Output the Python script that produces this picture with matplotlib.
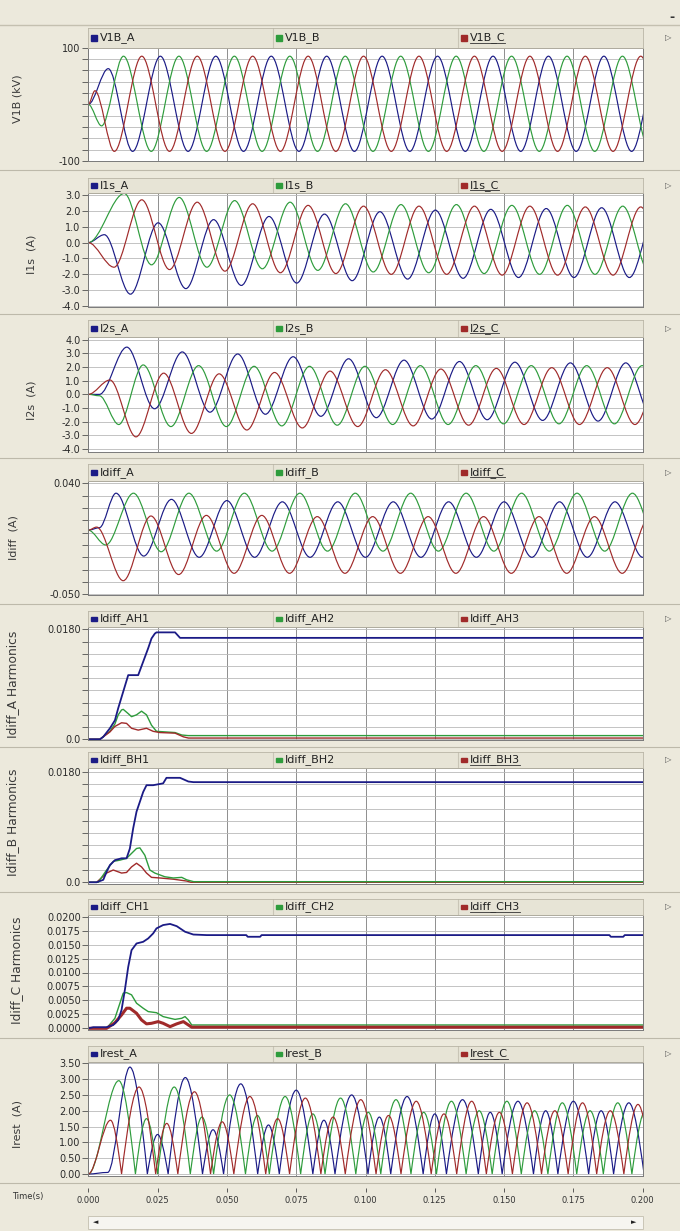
import numpy as np
import matplotlib
matplotlib.use("Agg")
import matplotlib.pyplot as plt
from matplotlib.path import Path
from matplotlib.patches import PathPatch, Rectangle
from matplotlib.lines import Line2D
from matplotlib.transforms import IdentityTransform

# waveform extrema, time in ms
V1B_A_T = [0, 7.2, 16, 26, 36, 46, 56, 66, 76, 86, 96, 106, 116, 126, 136, 146, 156, 166, 176, 186, 196, 206]
V1B_A = [0, 63, -83, 85, -83, 85, -83, 85, -83, 85, -83, 85, -83, 85, -83, 85, -83, 85, -83, 85, -83, 85]
V1B_B_T = [0, 4.8, 12.7, 22.7, 32.7, 42.7, 52.7, 62.7, 72.7, 82.7, 92.7, 102.7, 112.7, 122.7, 132.7, 142.7,
           152.7, 162.7, 172.7, 182.7, 192.7, 202.7]
V1B_B = [0, -38, 85, -83, 85, -83, 85, -83, 85, -83, 85, -83, 85, -83, 85, -83, 85, -83, 85, -83, 85, -83]
V1B_C_T = [0, 2.4, 9.4, 19.3, 29.3, 39.3, 49.3, 59.3, 69.3, 79.3, 89.3, 99.3, 109.3, 119.3, 129.3, 139.3,
           149.3, 159.3, 169.3, 179.3, 189.3, 199.3, 209.3]
V1B_C = [0, 24, -83, 85, -83, 85, -83, 85, -83, 85, -83, 85, -83, 85, -83, 85, -83, 85, -83, 85, -83, 85, -83]

I1S_A_T = [0, 5.8, 15.2, 25.2, 35.2, 45.2, 55.2, 65.2, 75.2, 85.2, 95.2, 105.2, 115.2, 125.2, 135.2, 145.2,
           155.2, 165.2, 175.2, 185.2, 195.2, 205.2]
I1S_A = [0, 0.5, -3.25, 1.25, -2.9, 1.45, -2.7, 1.65, -2.55, 1.8, -2.4, 1.95, -2.3, 2.05, -2.25, 2.1,
         -2.2, 2.15, -2.2, 2.2, -2.2, 2.2]
I1S_B_T = [0, 13.0, 22.8, 32.8, 42.8, 52.8, 62.8, 72.8, 82.8, 92.8, 102.8, 112.8, 122.8, 132.8, 142.8,
           152.8, 162.8, 172.8, 182.8, 192.8, 202.8]
I1S_B = [0, 3.1, -1.4, 2.85, -1.55, 2.65, -1.65, 2.55, -1.75, 2.45, -1.85, 2.4, -1.9, 2.4, -1.95, 2.35,
         -2.0, 2.35, -2.0, 2.3, -2.05]
I1S_C_T = [0, 9.3, 19.3, 29.3, 39.3, 49.3, 59.3, 69.3, 79.3, 89.3, 99.3, 109.3, 119.3, 129.3, 139.3, 149.3,
           159.3, 169.3, 179.3, 189.3, 199.3, 209.3]
I1S_C = [0, -1.55, 2.7, -1.7, 2.55, -1.8, 2.45, -1.9, 2.35, -1.95, 2.3, -2.0, 2.3, -2.0, 2.3, -2.05,
         2.3, -2.05, 2.25, -2.05, 2.25, -2.05]

I2S_A_T = [0, 4, 13.9, 23.9, 33.9, 43.9, 53.9, 63.9, 73.9, 83.9, 93.9, 103.9, 113.9, 123.9, 133.9, 143.9,
           153.9, 163.9, 173.9, 183.9, 193.9, 203.9]
I2S_A = [0, 0, 3.45, -1.05, 3.1, -1.3, 2.95, -1.45, 2.75, -1.6, 2.6, -1.7, 2.5, -1.8, 2.4, -1.85,
         2.35, -1.9, 2.3, -1.95, 2.3, -1.95]
I2S_B_T = [0, 4, 11, 19.8, 29.8, 39.8, 49.8, 59.8, 69.8, 79.8, 89.8, 99.8, 109.8, 119.8, 129.8, 139.8,
           149.8, 159.8, 169.8, 179.8, 189.8, 199.8, 209.8]
I2S_B = [0, -0.1, -2.2, 2.15, -2.35, 2.1, -2.35, 2.05, -2.3, 2.05, -2.25, 2.05, -2.2, 2.1, -2.2, 2.1,
         -2.15, 2.1, -2.15, 2.1, -2.15, 2.1, -2.15]
I2S_C_T = [0, 7.8, 17.2, 27.2, 37.2, 47.2, 57.2, 67.2, 77.2, 87.2, 97.2, 107.2, 117.2, 127.2, 137.2, 147.2,
           157.2, 167.2, 177.2, 187.2, 197.2, 207.2]
I2S_C = [0, 1.05, -3.1, 1.55, -2.85, 1.5, -2.6, 1.6, -2.45, 1.7, -2.35, 1.8, -2.3, 1.85, -2.25, 1.9,
         -2.2, 1.95, -2.2, 1.95, -2.2, 2.0]

IDIFF_A_T = [0, 4, 10, 20, 30, 40, 50, 60, 70, 80, 90, 100, 110, 120, 130, 140, 150, 160, 170, 180, 190, 200, 210]
IDIFF_A = [0.002, 0.004, 0.032, -0.019, 0.027, -0.020, 0.026, -0.020, 0.025, -0.020, 0.025, -0.020,
           0.025, -0.020, 0.025, -0.020, 0.025, -0.020, 0.025, -0.020, 0.025, -0.020, 0.025]
IDIFF_B_T = [0, 6.3, 16.3, 26.3, 36.3, 46.3, 56.3, 66.3, 76.3, 86.3, 96.3, 106.3, 116.3, 126.3, 136.3,
             146.3, 156.3, 166.3, 176.3, 186.3, 196.3, 206.3]
IDIFF_B = [0.002, -0.010, 0.032, -0.0155, 0.032, -0.015, 0.032, -0.015, 0.032, -0.015, 0.032, -0.015,
           0.032, -0.015, 0.032, -0.015, 0.032, -0.015, 0.032, -0.015, 0.032, -0.015]
IDIFF_C_T = [0, 3, 12.6, 22.6, 32.6, 42.6, 52.6, 62.6, 72.6, 82.6, 92.6, 102.6, 112.6, 122.6, 132.6,
             142.6, 152.6, 162.6, 172.6, 182.6, 192.6, 202.6]
IDIFF_C = [0.002, 0.0045, -0.039, 0.0135, -0.034, 0.014, -0.033, 0.014, -0.033, 0.013, -0.033, 0.013,
           -0.033, 0.013, -0.033, 0.013, -0.033, 0.013, -0.033, 0.013, -0.033, 0.013]

# harmonic magnitudes (polylines)
AH1_T = [0, 4.2, 5.4, 7.8, 9.6, 10.8, 12.6, 14.4, 18.0, 19.8, 21.6, 22.8, 24.0, 24.6, 31.3, 33.1, 200]
AH1 = [0, 0, 0.0004, 0.0018, 0.0031, 0.0051, 0.0078, 0.0105, 0.0105, 0.0127, 0.0149, 0.0165, 0.0173,
       0.0175, 0.0175, 0.0166, 0.0166]
AH2_T = [0, 4.2, 7.8, 9.6, 10.8, 12.0, 12.6, 14.4, 15.6, 17.4, 19.2, 21.0, 22.8, 24.6, 31.3, 33.7, 36.0, 200]
AH2 = [0, 0, 0.0013, 0.0025, 0.004, 0.0048, 0.0049, 0.0042, 0.0037, 0.004, 0.0046, 0.004, 0.0023, 0.0013,
       0.0011, 0.0007, 0.0006, 0.0006]
AH3_T = [0, 4.2, 7.8, 9.6, 12.0, 13.8, 15.6, 18.0, 21.0, 23.4, 25.8, 31.3, 34.3, 36.1, 200]
AH3 = [0, 0, 0.0012, 0.0021, 0.0027, 0.0026, 0.0018, 0.0015, 0.0018, 0.0013, 0.0011, 0.001, 0.0004,
       0.0002, 0.0002]

BH1_T = [0, 3.0, 5.4, 6.6, 7.8, 9.6, 12.0, 13.8, 15.0, 16.2, 17.4, 18.6, 19.8, 21.0, 23.4, 27.0, 28.2,
         33.1, 36.1, 37.9, 200]
BH1 = [0, 0, 0.0004, 0.0017, 0.0028, 0.0036, 0.0039, 0.0039, 0.0055, 0.0088, 0.0115, 0.0131, 0.0147,
       0.0158, 0.0158, 0.0161, 0.0170, 0.0170, 0.0164, 0.0163, 0.0163]
BH2_T = [0, 3.6, 6.6, 9.0, 11.4, 13.8, 15.6, 17.4, 18.6, 20.4, 22.2, 24.0, 25.8, 27.6, 30.7, 33.7, 35.5,
         38.0, 200]
BH2 = [0, 0, 0.002, 0.0034, 0.0036, 0.0039, 0.0047, 0.0055, 0.0056, 0.0044, 0.002, 0.0015, 0.0012, 0.0009,
       0.0007, 0.0008, 0.0004, 0.0001, 0.0001]
BH3_T = [0, 3.0, 6.6, 9.0, 12.0, 13.8, 15.6, 17.4, 19.2, 21.0, 22.8, 25.8, 30.7, 35.5, 37.0, 200]
BH3 = [0, 0, 0.0015, 0.002, 0.0015, 0.0016, 0.0025, 0.0031, 0.0025, 0.0015, 0.0008, 0.0007, 0.0005,
       0.0002, 0.0, 0.0]

CH1_T = [0, 1.8, 6.6, 9.0, 10.8, 12.0, 13.2, 14.4, 15.6, 17.4, 19.8, 21.6, 23.4, 24.6, 27.0, 29.5, 31.9,
         34.9, 37.9, 42.7, 57.0, 57.5, 62.0, 62.5, 188.0, 188.5, 193.0, 193.5, 200]
CH1 = [0, 0.0002, 0.0002, 0.0006, 0.0015, 0.0033, 0.0069, 0.011, 0.014, 0.0152, 0.0155, 0.0161, 0.017,
       0.0179, 0.0185, 0.0187, 0.0183, 0.0173, 0.0168, 0.0167, 0.0167, 0.0164, 0.0164, 0.0167, 0.0167,
       0.0164, 0.0164, 0.0167, 0.0167]
CH2_T = [0, 6.6, 9.6, 11.4, 12.6, 13.8, 15.6, 17.4, 19.8, 21.6, 24.6, 27.0, 29.5, 31.3, 33.7, 34.9, 36.1,
         37.3, 200]
CH2 = [0, 0, 0.0018, 0.0045, 0.0063, 0.0064, 0.006, 0.0045, 0.0036, 0.003, 0.0028, 0.0021, 0.0018, 0.0016,
       0.0018, 0.0021, 0.0015, 0.0006, 0.0006]
CH3_T = [0, 6.6, 9.6, 12.0, 13.8, 15.0, 17.4, 19.2, 21.0, 22.8, 25.2, 27.0, 29.5, 31.9, 34.3, 36.1, 37.3, 200]
CH3 = [0, 0, 0.001, 0.0024, 0.0036, 0.0036, 0.0027, 0.0015, 0.0008, 0.0009, 0.0012, 0.0009, 0.0003,
       0.0008, 0.0012, 0.0006, 0.0002, 0.0002]

# restraint currents: hump peaks and zero cusps
IREST_A_T = [0, 7, 15, 21.3, 25, 28.8, 35, 41.2, 45, 48.8, 55, 61.1, 65, 68.9, 75, 81, 85, 89, 95, 100.9,
             105, 109.1, 115, 120.8, 125, 129.2, 135, 140.7, 145, 149.3, 155, 160.6, 165, 169.4, 175, 180.5,
             185, 189.5, 195, 200.5, 205]
IREST_A = [0, 0.05, 3.38, 0, 1.25, 0, 3.05, 0, 1.4, 0, 2.85, 0, 1.55, 0, 2.65, 0, 1.7, 0, 2.5, 0, 1.8, 0,
           2.45, 0, 1.9, 0, 2.35, 0, 1.95, 0, 2.3, 0, 2.0, 0, 2.3, 0, 2.0, 0, 2.25, 0, 2.0]
IREST_B_T = [0, 11, 17, 21, 25, 31, 36.8, 41, 45.2, 51, 56.7, 61, 65.3, 71, 76.6, 81, 85.4, 91, 96.5, 101,
             105.5, 111, 116.4, 121, 125.6, 131, 136.3, 141, 145.7, 151, 156.2, 161, 165.8, 171, 176.2, 181,
             185.8, 191, 196.1, 201, 205.9, 211]
IREST_B = [0, 2.95, 0, 1.75, 0, 2.75, 0, 1.8, 0, 2.5, 0, 1.85, 0, 2.45, 0, 1.9, 0, 2.4, 0, 1.95, 0, 2.35,
           0, 1.95, 0, 2.3, 0, 2.0, 0, 2.3, 0, 2.0, 0, 2.25, 0, 2.0, 0, 2.25, 0, 2.0, 0, 2.2]
IREST_C_T = [0, 8, 12, 18.3, 24.3, 28.3, 32.3, 38.3, 44.1, 48.3, 52.5, 58.3, 64, 68.3, 72.6, 78.3, 83.9,
             88.3, 92.7, 98.3, 103.8, 108.3, 112.8, 118.3, 123.7, 128.3, 132.9, 138.3, 143.6, 148.3, 153,
             158.3, 163.5, 168.3, 173.1, 178.3, 183.4, 188.3, 193.2, 198.3, 203.3, 208.3]
IREST_C = [0, 1.7, 0, 2.75, 0, 1.6, 0, 2.6, 0, 1.65, 0, 2.45, 0, 1.75, 0, 2.4, 0, 1.8, 0, 2.35, 0, 1.85,
           0, 2.3, 0, 1.9, 0, 2.3, 0, 1.95, 0, 2.25, 0, 2.0, 0, 2.25, 0, 2.0, 0, 2.2, 0, 2.05]

# axis ticks / labels
V1B_TICKS = [-100, -80, -60, -40, -20, 0, 20, 40, 60, 80, 100]
V1B_LABELS = ['-100', '', '', '', '', '', '', '', '', '', '100']
I1S_TICKS = [-4, -3, -2, -1, 0, 1, 2, 3]
I1S_LABELS = ['-4.0', '-3.0', '-2.0', '-1.0', '0.0', '1.0', '2.0', '3.0']
I2S_TICKS = [-4, -3, -2, -1, 0, 1, 2, 3, 4]
I2S_LABELS = ['-4.0', '-3.0', '-2.0', '-1.0', '0.0', '1.0', '2.0', '3.0', '4.0']
IDIFF_TICKS = [-0.05, -0.04, -0.03, -0.02, -0.01, 0, 0.01, 0.02, 0.03, 0.04]
IDIFF_LABELS = ['-0.050', '', '', '', '', '', '', '', '', '0.040']
HAB_TICKS = [0, 0.002, 0.004, 0.006, 0.008, 0.010, 0.012, 0.014, 0.016, 0.018]
HAB_LABELS = ['0.0', '', '', '', '', '', '', '', '', '0.0180']
HC_TICKS = [0, 0.0025, 0.005, 0.0075, 0.01, 0.0125, 0.015, 0.0175, 0.02]
HC_LABELS = ['0.0000', '0.0025', '0.0050', '0.0075', '0.0100', '0.0125', '0.0150', '0.0175', '0.0200']
IREST_TICKS = [0, 0.5, 1.0, 1.5, 2.0, 2.5, 3.0, 3.5]
IREST_LABELS = ['0.00', '0.50', '1.00', '1.50', '2.00', '2.50', '3.00', '3.50']
TIME_TICKS = [0, 0.025, 0.05, 0.075, 0.1, 0.125, 0.15, 0.175, 0.2]
TIME_LABELS = ['0.000', '0.025', '0.050', '0.075', '0.100', '0.125', '0.150', '0.175', '0.200']

plt.rcParams['font.family'] = ['DejaVu Sans']

W, H = 680, 1231
X0, X1 = 88.3, 643.3
PX_PER_S = 2772.0
BG = '#ECE9DC'
STRIP = '#E7E4D6'
BLUE = '#1b1b86'
GREEN = '#2e9c3c'
RED = '#a02a2a'
COLORS = [BLUE, GREEN, RED]

fig = plt.figure(figsize=(W / 100, H / 100), dpi=100, facecolor=BG)
underlined = []


def fx(px):
    return px / W


def fy(py):
    return 1 - py / H


def rect(top, bottom, left=X0, right=X1):
    return [fx(left), fy(bottom), (right - left) / W, (bottom - top) / H]


def hline(y, color='#BDB9AA', lw=0.8):
    fig.add_artist(Line2D([0, 1], [fy(y), fy(y)], transform=fig.transFigure, color=color, lw=lw))


def wave(ax, t_ms, vals, color, cusp=False, lw=0.85):
    # smooth curve through the read extrema (flat tangent at peaks, steep at cusps)
    t = np.asarray(t_ms, dtype=float) / 1000.0
    v = np.asarray(vals, dtype=float)
    n = len(t)
    verts = [(t[0], v[0])]
    codes = [Path.MOVETO]
    for i in range(n - 1):
        dt = t[i + 1] - t[i]
        c1 = v[i]
        c2 = v[i + 1]
        if cusp and v[i] == 0 and i > 0:
            c1 = v[i] + (v[i + 1] - v[i]) * 0.52
        if cusp and v[i + 1] == 0 and i + 1 < n - 1:
            c2 = v[i + 1] + (v[i] - v[i + 1]) * 0.52
        verts += [(t[i] + dt / 3, c1), (t[i + 1] - dt / 3, c2), (t[i + 1], v[i + 1])]
        codes += [Path.CURVE4] * 3
    ax.add_patch(PathPatch(Path(verts, codes), fill=False, edgecolor=color, lw=lw))


def make_panel(strip, top, bottom, ylim, ticks, labels, names, ul=True):
    ax = fig.add_axes(rect(top, bottom))
    ax.set_facecolor('white')
    ax.set_xlim(0, (X1 - X0) / PX_PER_S)
    ax.set_ylim(*ylim)
    ax.set_yticks(ticks)
    ax.set_yticklabels(labels)
    ax.set_xticks(TIME_TICKS)
    ax.tick_params(axis='x', length=0, labelbottom=False)
    ax.tick_params(axis='y', length=4, width=0.6, color='#505050', pad=1.5, labelsize=7,
                   labelcolor='#2a2a2a')
    ax.grid(axis='y', color='#b9b9b9', lw=0.6)
    ax.grid(axis='x', color='#8e8e8e', lw=0.7)
    ax.set_axisbelow(True)
    for s in ax.spines.values():
        s.set_color('#7a7a7a')
        s.set_linewidth(0.7)

    sa = fig.add_axes(rect(strip, top))
    sa.set_xlim(0, X1 - X0)
    sa.set_ylim(0, 1)
    sa.set_xticks([])
    sa.set_yticks([])
    sa.set_facecolor(STRIP)
    for s in sa.spines.values():
        s.set_color('#B9B5A6')
        s.set_linewidth(0.6)
    cell = (X1 - X0) / 3
    for k in range(3):
        if k:
            sa.axvline(cell * k, color='#C9C5B6', lw=0.8)
        sa.add_patch(Rectangle((cell * k + 2.5, 0.36), 6, 0.28, color=COLORS[k]))
        t = sa.text(cell * k + 11.5, 0.5, names[k], fontsize=8, va='center', color='#222222')
        if k == 2 and ul:
            underlined.append(t)
    fig.text(fx(668), fy((strip + top) / 2), '\u25b7', fontsize=6, color='#555555',
             ha='center', va='center')
    return ax


# frame decoration
hline(25, '#C4C0B0', 1.0)
fig.text(fx(672), fy(17), '-', fontsize=9, fontweight='bold', color='#333333', ha='center', va='center')
for y in [170, 314, 458, 604, 747, 892, 1038, 1183]:
    hline(y)

ax1 = make_panel(28, 47.7, 161, (-100, 100), V1B_TICKS, V1B_LABELS, ['V1B_A', 'V1B_B', 'V1B_C'])
wave(ax1, V1B_A_T, V1B_A, BLUE)
wave(ax1, V1B_B_T, V1B_B, GREEN)
wave(ax1, V1B_C_T, V1B_C, RED)

ax2 = make_panel(178, 193, 307, (-4.06, 3.13), I1S_TICKS, I1S_LABELS, ['I1s_A', 'I1s_B', 'I1s_C'])
wave(ax2, I1S_A_T, I1S_A, BLUE)
wave(ax2, I1S_B_T, I1S_B, GREEN)
wave(ax2, I1S_C_T, I1S_C, RED)

ax3 = make_panel(320, 337, 451.5, (-4.17, 4.19), I2S_TICKS, I2S_LABELS, ['I2s_A', 'I2s_B', 'I2s_C'])
wave(ax3, I2S_A_T, I2S_A, BLUE)
wave(ax3, I2S_B_T, I2S_B, GREEN)
wave(ax3, I2S_C_T, I2S_C, RED)

ax4 = make_panel(464, 481, 595, (-0.0506, 0.0419), IDIFF_TICKS, IDIFF_LABELS,
                 ['Idiff_A', 'Idiff_B', 'Idiff_C'])
wave(ax4, IDIFF_A_T, IDIFF_A, BLUE)
wave(ax4, IDIFF_B_T, IDIFF_B, GREEN)
wave(ax4, IDIFF_C_T, IDIFF_C, RED)

ax5 = make_panel(611, 627, 740, (-0.00012, 0.01838), HAB_TICKS, HAB_LABELS,
                 ['Idiff_AH1', 'Idiff_AH2', 'Idiff_AH3'], ul=False)
ax5.plot(np.array(AH2_T) / 1000, AH2, color=GREEN, lw=1.0)
ax5.plot(np.array(AH3_T) / 1000, AH3, color=RED, lw=1.0)
ax5.plot(np.array(AH1_T) / 1000, AH1, color=BLUE, lw=1.3)

ax6 = make_panel(752, 768, 884, (-0.00028, 0.0186), HAB_TICKS, HAB_LABELS,
                 ['Idiff_BH1', 'Idiff_BH2', 'Idiff_BH3'])
ax6.plot(np.array(BH3_T) / 1000, BH3, color=RED, lw=1.0)
ax6.plot(np.array(BH2_T) / 1000, BH2, color=GREEN, lw=1.0)
ax6.plot(np.array(BH1_T) / 1000, BH1, color=BLUE, lw=1.3)

ax7 = make_panel(899, 915, 1030, (-0.0003, 0.0203), HC_TICKS, HC_LABELS,
                 ['Idiff_CH1', 'Idiff_CH2', 'Idiff_CH3'])
ax7.plot(np.array(CH2_T) / 1000, CH2, color=GREEN, lw=1.0)
ax7.plot(np.array(CH3_T) / 1000, CH3, color=RED, lw=2.2)
ax7.plot(np.array(CH1_T) / 1000, CH1, color=BLUE, lw=1.3)

ax8 = make_panel(1046, 1062, 1175.5, (-0.047, 3.541), IREST_TICKS, IREST_LABELS,
                 ['Irest_A', 'Irest_B', 'Irest_C'])
wave(ax8, IREST_A_T, IREST_A, BLUE, cusp=True)
wave(ax8, IREST_B_T, IREST_B, GREEN, cusp=True)
wave(ax8, IREST_C_T, IREST_C, RED, cusp=True)

# y-axis titles
ylab = [('V1B (kV)', 18, 99, 8), ('I1s  (A)', 32, 254, 8), ('I2s  (A)', 32, 400, 8),
        ('Idiff  (A)', 14, 538, 8), ('Idiff_A Harmonics', 13, 684, 8.8),
        ('Idiff_B Harmonics', 13, 822, 8.8), ('Idiff_C Harmonics', 17, 970, 8.8),
        ('Irest  (A)', 17, 1124, 8)]
for txt, x, y, fs in ylab:
    fig.text(fx(x), fy(y), txt, rotation=90, fontsize=fs, color='#3a3a3a', ha='center', va='center')

# time axis below the last panel
axt = fig.add_axes(rect(1184, 1188))
axt.set_xlim(0, (X1 - X0) / PX_PER_S)
axt.set_frame_on(False)
axt.patch.set_alpha(0)
axt.set_yticks([])
axt.set_xticks(TIME_TICKS)
axt.set_xticklabels(TIME_LABELS)
axt.tick_params(axis='x', length=3, width=0.6, color='#444444', pad=2.5, labelsize=6, labelcolor='#333333')
fig.text(fx(28), fy(1196), 'Time(s)', fontsize=6, color='#333333', ha='center', va='center')

# scroll bar
fig.add_artist(Rectangle((fx(88), fy(1229)), (643 - 88) / W, 13 / H, transform=fig.transFigure,
                         facecolor='#F6F5F0', edgecolor='#C9C5B6', lw=0.7))
fig.text(fx(96), fy(1222.5), '\u25c4', fontsize=5, color='#222222', ha='center', va='center')
fig.text(fx(634), fy(1222.5), '\u25ba', fontsize=5, color='#222222', ha='center', va='center')

# underline the third legend entries
fig.canvas.draw()
rend = fig.canvas.get_renderer()
for t in underlined:
    bb = t.get_window_extent(renderer=rend)
    fig.add_artist(Line2D([bb.x0, bb.x1], [bb.y0 + 0.5, bb.y0 + 0.5], transform=IdentityTransform(),
                          color='#333333', lw=0.6))

fig.savefig('out.png', dpi=100, facecolor=BG)
